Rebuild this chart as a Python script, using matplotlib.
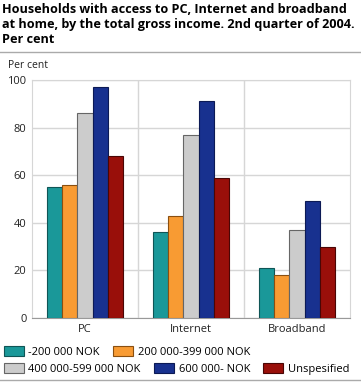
import numpy as np
import matplotlib.pyplot as plt
from matplotlib.patches import Patch

plt.rcParams['font.family'] = ['Open Sans', 'DejaVu Sans']

categories = ['PC', 'Internet', 'Broadband']
series = ['-200 000 NOK', '200 000-399 000 NOK', '400 000-599 000 NOK',
          '600 000- NOK', 'Unspesified']
values = [
    [55, 36, 21],
    [56, 43, 18],
    [86, 77, 37],
    [97, 91, 49],
    [68, 59, 30],
]
colors = ['#1a9899', '#f89b33', '#cccccc', '#18318f', '#990f0a']
edges = ['#0f5556', '#8a4f10', '#666666', '#0c1a55', '#4a0605']

fig = plt.figure(figsize=(3.61, 3.90), dpi=100)
ax = fig.add_axes([32 / 361, 1 - 318 / 390, 318 / 361, 238 / 390])

x = np.arange(len(categories))
w = 0.142
for i, (vals, c, e) in enumerate(zip(values, colors, edges)):
    ax.bar(x + (i - 2) * w, vals, w, color=c, edgecolor=e, linewidth=0.8, zorder=3)

ax.set_xlim(-0.5, 2.5)
ax.set_ylim(0, 100)
ax.set_yticks([0, 20, 40, 60, 80, 100])
ax.set_xticks(x)
ax.set_xticklabels(categories)
ax.set_xticks([0.5, 1.5], minor=True)
ax.grid(axis='y', color='#d6d6d6', linewidth=1, zorder=0)
ax.grid(axis='x', which='minor', color='#d6d6d6', linewidth=1, zorder=0)
ax.tick_params(which='both', length=0, labelsize=8, colors='#222222', pad=4)
for s in ['top', 'right', 'left']:
    ax.spines[s].set_color('#d6d6d6')
ax.spines['bottom'].set_color('#999999')

fig.text(8 / 361, 1 - 66 / 390, 'Per cent', fontsize=7.5, va='center', color='#222222')

fig.text(2 / 361, 1 - 3 / 390,
         'Households with access to PC, Internet and broadband\n'
         'at home, by the total gross income. 2nd quarter of 2004.\n'
         'Per cent',
         fontsize=9.1, fontweight='bold', va='top', linespacing=1.2)

fig.add_artist(plt.Line2D([0, 1], [1 - 52 / 390] * 2, color='#aaaaaa', linewidth=1))
fig.add_artist(plt.Line2D([0, 1], [1 - 380 / 390] * 2, color='#aaaaaa', linewidth=1))

handles = [Patch(facecolor=c, edgecolor=e, linewidth=0.8) for c, e in zip(colors, edges)]
kw = dict(frameon=False, fontsize=8, handlelength=1.8, handleheight=1.0,
          handletextpad=0.4, columnspacing=1.2, borderaxespad=0, borderpad=0)
leg1 = fig.legend(handles[:2], series[:2], ncol=2, loc='center left',
                  bbox_to_anchor=(4 / 361, 1 - 352 / 390), **kw)
leg2 = fig.legend(handles[2:], series[2:], ncol=3, loc='center left',
                  bbox_to_anchor=(4 / 361, 1 - 369 / 390), **kw)

fig.savefig('out.png', dpi=100)
